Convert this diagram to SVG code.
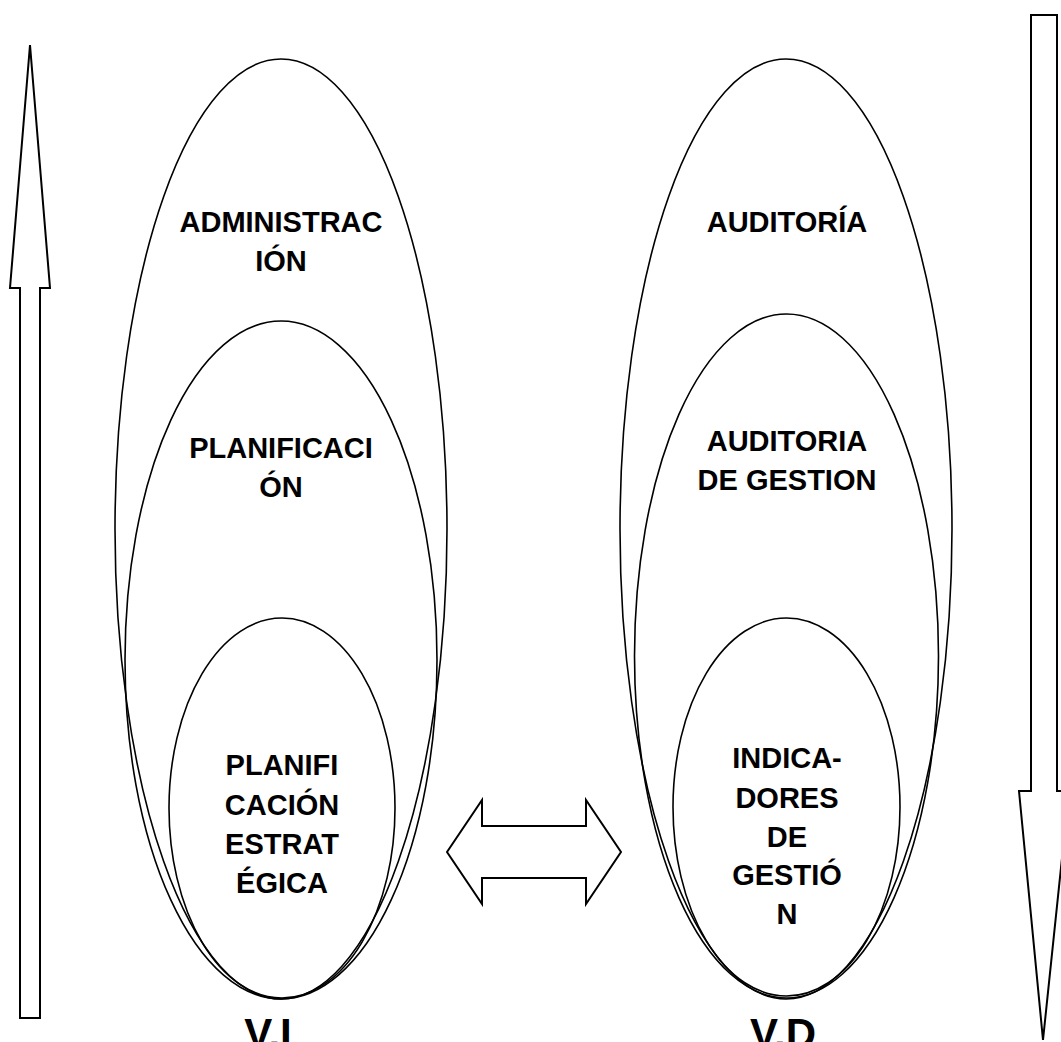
<svg xmlns="http://www.w3.org/2000/svg" width="1061" height="1042" viewBox="0 0 1061 1042">
  <style>
    .shape { fill: none; stroke: #000; stroke-width: 1.6; }
    .arrow { fill: #fff; stroke: #000; stroke-width: 2; stroke-linejoin: miter; }
    .label { font-family: "Liberation Sans", Arial, sans-serif; font-weight: bold; font-size: 29px; fill: #000; text-anchor: middle; }
    .axis { font-family: "Liberation Sans", Arial, sans-serif; font-weight: bold; font-size: 42px; fill: #000; text-anchor: middle; }
  </style>
  <rect width="1061" height="1042" fill="#fff"/>

  <!-- side arrows and the two-way arrow between the columns -->
  <g id="connectors">
    <polygon class="arrow" points="30,45 50,288 40,288 40,1018 20,1018 20,288 10,288"/>
    <polygon class="arrow" points="1031,15 1057,15 1057,791 1069,791 1043,1040 1019,791 1031,791"/>
    <polygon class="arrow" points="447,852 482,800 482,826 586,826 586,800 621,852 586,904 586,878 482,878 482,904"/>
  </g>

  <!-- left column -->
  <g id="administracion">
    <ellipse class="shape" cx="281" cy="529" rx="166" ry="470"/>
    <text class="label" x="281" y="232">ADMINISTRAC</text>
    <text class="label" x="281" y="271">IÓN</text>
  </g>
  <g id="planificacion">
    <ellipse class="shape" cx="281" cy="660" rx="156" ry="339"/>
    <text class="label" x="281" y="458">PLANIFICACI</text>
    <text class="label" x="281" y="497">ÓN</text>
  </g>
  <g id="planificacion-estrategica">
    <ellipse class="shape" cx="282" cy="808" rx="113" ry="190"/>
    <text class="label" x="282" y="775">PLANIFI</text>
    <text class="label" x="282" y="815">CACIÓN</text>
    <text class="label" x="282" y="854">ESTRAT</text>
    <text class="label" x="282" y="893">ÉGICA</text>
  </g>

  <!-- right column -->
  <g id="auditoria">
    <ellipse class="shape" cx="786" cy="529" rx="166" ry="470"/>
    <text class="label" x="787" y="232">AUDITORÍA</text>
  </g>
  <g id="auditoria-gestion">
    <ellipse class="shape" cx="786.5" cy="656" rx="152" ry="342"/>
    <text class="label" x="787" y="451">AUDITORIA</text>
    <text class="label" x="787" y="490">DE GESTION</text>
  </g>
  <g id="indicadores">
    <ellipse class="shape" cx="786.5" cy="807" rx="113.5" ry="189"/>
    <text class="label" x="787" y="768">INDICA-</text>
    <text class="label" x="787" y="808">DORES</text>
    <text class="label" x="787" y="847">DE</text>
    <text class="label" x="787" y="885">GESTIÓ</text>
    <text class="label" x="787" y="924">N</text>
  </g>

  <!-- variable labels under each column -->
  <g id="labels">
    <text class="axis" x="268" y="1048">V.I</text>
    <text class="axis" x="783" y="1048">V.D</text>
  </g>
</svg>
